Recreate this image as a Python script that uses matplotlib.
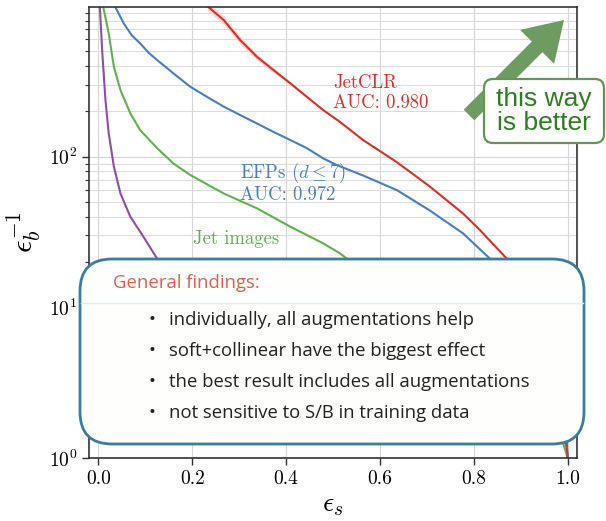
import numpy as np
import matplotlib
matplotlib.use("Agg")
import matplotlib.pyplot as plt
from matplotlib.patches import FancyBboxPatch, FancyArrow
from matplotlib.transforms import Affine2D
from matplotlib.lines import Line2D

# ---------------- data ----------------
red_x = [0.232, 0.267, 0.302, 0.338, 0.373, 0.409, 0.444, 0.479, 0.515, 0.564, 0.636, 0.706, 0.777, 0.813, 0.870,
         0.90, 0.93, 0.95, 0.97, 0.985, 0.995, 1.0]
red_y = [1000, 807, 595, 460, 376, 307, 250, 204, 170, 129, 92, 63.5, 42, 32.6, 21.1,
         16, 11, 8, 5, 3, 1.8, 1]
red_band = [0.07, 0.065, 0.06, 0.05, 0.035, 0.025, 0.018, 0.012, 0.01, 0.008, 0.007, 0.006, 0.005, 0.005, 0.005,
            0.005, 0.005, 0.005, 0.005, 0.005, 0.005, 0.0]

blue_x = [0.035, 0.054, 0.071, 0.089, 0.107, 0.125, 0.143, 0.160, 0.196, 0.231, 0.267, 0.302, 0.338, 0.373, 0.409,
          0.444, 0.479, 0.508, 0.564, 0.636, 0.706, 0.777, 0.834,
          0.87, 0.90, 0.93, 0.96, 0.98, 0.995, 1.0]
blue_y = [1000, 767, 640, 565, 490, 438, 395, 357, 291, 250, 215, 189, 166, 146, 129,
          114, 97.5, 88, 75, 60, 44, 31, 21.1,
          16, 12, 8, 5, 3, 1.7, 1]

green_x = [0.010, 0.022, 0.033, 0.047, 0.068, 0.089, 0.125, 0.160, 0.196, 0.267, 0.338, 0.409, 0.479, 0.515, 0.529,
           0.60, 0.70, 0.80, 0.88, 0.94, 0.98, 1.0]
green_y = [1000, 658, 395, 277, 194, 150, 114, 90, 75.5, 57, 45.4, 34.3, 26.6, 22.8, 21.1,
           17, 11.5, 7, 4.3, 2.7, 1.6, 1]

purple_x = [0.003, 0.008, 0.015, 0.022, 0.033, 0.047, 0.068, 0.096, 0.125,
            0.20, 0.30, 0.45, 0.60, 0.80, 0.95, 0.99, 0.997, 1.0]
purple_y = [1000, 510, 238, 143, 86, 57, 40, 29.4, 21.1,
            12, 8, 5, 3.5, 2.3, 1.7, 1.45, 1.2, 1.0]

x_ticks = [0.0, 0.2, 0.4, 0.6, 0.8, 1.0]
findings_title = "General findings:"
findings = [
    "individually, all augmentations help",
    "soft+collinear have the biggest effect",
    "the best result includes all augmentations",
    "not sensitive to S/B in training data",
]

# ---------------- style ----------------
plt.rcParams['mathtext.fontset'] = 'cm'
plt.rcParams['font.family'] = ['cmr10', 'DejaVu Serif']
plt.rcParams['axes.formatter.use_mathtext'] = True

W, H, DPI = 606, 521, 100
fig = plt.figure(figsize=(W / DPI, H / DPI), dpi=DPI)
ax = fig.add_axes([89 / W, 1 - 458 / H, (577 - 89) / W, (458 - 7) / H])

c_red = '#d7322b'
c_blue = '#4a7fbe'
c_green = '#62b04f'
c_purple = '#8e4ea8'

ax.fill_between(red_x, np.array(red_y) * (1 - np.array(red_band)),
                np.array(red_y) * (1 + np.array(red_band)), color=c_red, alpha=0.2, lw=0)
ax.plot(purple_x, purple_y, color=c_purple, lw=1.5)
ax.plot(green_x, green_y, color=c_green, lw=1.5)
ax.plot(blue_x, blue_y, color=c_blue, lw=1.5)
ax.plot(red_x, red_y, color=c_red, lw=1.5)

ax.set_yscale('log')
ax.set_xlim(-0.02, 1.02)
ax.set_ylim(1, 985)
ax.set_xticks(x_ticks)
ax.set_xticklabels([f"{t:.1f}" for t in x_ticks])
ax.grid(True, which='major', color='#d5d5d5', lw=0.8)
ax.grid(True, which='minor', axis='y', color='#dcdcdc', lw=0.8)
ax.tick_params(axis='both', which='major', labelsize=14, length=5, width=1, color='#333333')
ax.tick_params(axis='y', which='minor', length=3, width=0.8, color='#333333')
for s in ax.spines.values():
    s.set_color('#333333')
    s.set_linewidth(1.2)

ax.set_xlabel(r'$\epsilon_s$', fontsize=20, labelpad=3)
ax.set_ylabel(r'$\epsilon_b^{-1}$', fontsize=22, labelpad=4)

ax.text(0.5, 265, "JetCLR\nAUC: 0.980", color=c_red, fontsize=13.5, va='center', ha='left', linespacing=1.12)
ax.text(0.302, 67.4, "EFPs ($d\\leq7$)\nAUC: 0.972", color=c_blue, fontsize=13.5, va='center', ha='left', linespacing=1.12)
ax.text(0.202, 28.4, "Jet images", color=c_green, fontsize=13.5, va='center', ha='left')

# ---------------- overlays in pixel coordinates ----------------
T = Affine2D().scale(1 / DPI) + fig.dpi_scale_trans

def P(x, y):
    return (x, H - y)

# arrow
tail = P(469, 115)
tip = P(564, 20)
dx, dy = tip[0] - tail[0], tip[1] - tail[1]
arr = FancyArrow(tail[0], tail[1], dx, dy, width=15, head_width=48, head_length=38,
                 length_includes_head=True, transform=T, color='#6e9c60', lw=0,
                 zorder=5, clip_on=False)
fig.add_artist(arr)

# "this way is better" box
bx0, by0, bx1, by1 = 484, 79, 604, 143
box2 = FancyBboxPatch(P(bx0, by1), bx1 - bx0, by1 - by0,
                      boxstyle="round,pad=0,rounding_size=9", transform=T,
                      fc='white', ec='#5e9a4e', lw=1.6, zorder=6, clip_on=False)
fig.add_artist(box2)
fig.text((bx0 + bx1) / 2 / W, 1 - (by0 + by1) / 2 / H, "this way\nis better",
         ha='center', va='center', fontsize=19, color='#2f7d22',
         family=['Liberation Sans', 'DejaVu Sans'], linespacing=0.95, zorder=7)

# findings box
fx0, fy0, fx1, fy1 = 80, 259, 584, 444
box = FancyBboxPatch(P(fx0, fy1), fx1 - fx0, fy1 - fy0,
                     boxstyle="round,pad=0,rounding_size=32", transform=T,
                     fc='#fefefd', ec='#3a7d9c', lw=2.0, zorder=6, clip_on=False)
fig.add_artist(box)
sep = Line2D([fx0 + 1, fx1 - 1], [H - 303, H - 303], transform=T, color='#e2edf3', lw=1.0, zorder=7)
fig.add_artist(sep)
fs = 13.3
fig.text(113 / W, 1 - 283 / H, findings_title, ha='left', va='center', fontsize=fs,
         color='#d9624b', family=['Open Sans', 'DejaVu Sans'], zorder=8)
ys = [320, 351, 382, 413]
for yy, t in zip(ys, findings):
    fig.text(152 / W, 1 - yy / H, "\u2022", ha='center', va='center', fontsize=fs,
             color='#222222', family=['Open Sans', 'DejaVu Sans'], zorder=8)
    fig.text(169 / W, 1 - yy / H, t, ha='left', va='center', fontsize=fs,
             color='#222222', family=['Open Sans', 'DejaVu Sans'], zorder=8)

fig.savefig('out.png', dpi=DPI)
